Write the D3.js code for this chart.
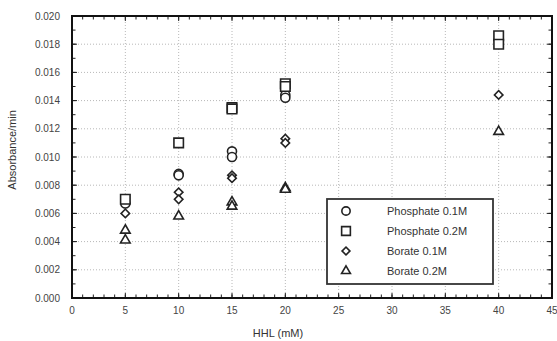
<!DOCTYPE html>
<html>
<head>
<meta charset="utf-8">
<script src="https://cdn.jsdelivr.net/npm/d3@7"></script>
<style>
  body { margin: 0; background: #fff; }
  text { font-family: "Liberation Sans", Arial, sans-serif; }
</style>
</head>
<body>
<div id="chart"></div>
<script>
// Values (HHL in mM, absorbance/min)
var phos01X = [5, 10, 10, 15, 15, 20, 20];
var phos01Y = [0.0067, 0.0088, 0.0087, 0.0104, 0.0100, 0.0144, 0.0142];
var phos02X = [5, 10, 15, 15, 20, 20, 40, 40];
var phos02Y = [0.0070, 0.0110, 0.0135, 0.0134, 0.0152, 0.0150, 0.0186, 0.0180];
var bor01X = [5, 10, 10, 15, 15, 20, 20, 40];
var bor01Y = [0.0060, 0.0075, 0.0070, 0.0087, 0.0085, 0.0113, 0.0110, 0.0144];
var bor02X = [5, 5, 10, 15, 15, 20, 20, 40];
var bor02Y = [0.0048, 0.0041, 0.0058, 0.0068, 0.0065, 0.0078, 0.0077, 0.0118];

var seriesNames = ["Phosphate 0.1M", "Phosphate 0.2M", "Borate 0.1M", "Borate 0.2M"];
var xTicks = [0, 5, 10, 15, 20, 25, 30, 35, 40, 45];
var yTicks = [0, 0.002, 0.004, 0.006, 0.008, 0.010, 0.012, 0.014, 0.016, 0.018, 0.020];

var width = 557, height = 341;
var margin = { top: 16, right: 5, bottom: 43, left: 72 };
var innerW = width - margin.left - margin.right;
var innerH = height - margin.top - margin.bottom;

var x = d3.scaleLinear().domain([0, 45]).range([0, innerW]);
var y = d3.scaleLinear().domain([0, 0.020]).range([innerH, 0]);

var svg = d3.select("#chart").append("svg")
    .attr("width", width)
    .attr("height", height);

var g = svg.append("g")
    .attr("transform", `translate(${margin.left}, ${margin.top})`);

// dotted grid at major ticks
g.append("g").selectAll("line").data(xTicks.slice(1, -1)).join("line")
    .attr("x1", d => x(d)).attr("x2", d => x(d))
    .attr("y1", 0).attr("y2", innerH)
    .attr("stroke", "#b8b8b8").attr("stroke-dasharray", "1,2");
g.append("g").selectAll("line").data(yTicks.slice(1, -1)).join("line")
    .attr("y1", d => y(d)).attr("y2", d => y(d))
    .attr("x1", 0).attr("x2", innerW)
    .attr("stroke", "#b8b8b8").attr("stroke-dasharray", "1,2");

// inward ticks on all four sides (major and minor)
var xMinor = d3.range(0, 46, 1);
var yMinor = d3.range(0, 21, 1).map(d => d / 1000);
function tickSide(vals, scale, isX, pos, dir, len) {
    g.append("g").selectAll("line").data(vals).join("line")
        .attr("x1", d => isX ? scale(d) : pos)
        .attr("x2", d => isX ? scale(d) : pos + dir * len)
        .attr("y1", d => isX ? pos : scale(d))
        .attr("y2", d => isX ? pos + dir * len : scale(d))
        .attr("stroke", "#222").attr("stroke-width", 1);
}
tickSide(xMinor, x, true, innerH, -1, 3.5);
tickSide(xMinor, x, true, 0, 1, 3.5);
tickSide(yMinor, y, false, 0, 1, 3.5);
tickSide(yMinor, y, false, innerW, -1, 3.5);
tickSide(xTicks, x, true, innerH, -1, 5);
tickSide(xTicks, x, true, 0, 1, 5);
tickSide(yTicks, y, false, 0, 1, 5);
tickSide(yTicks, y, false, innerW, -1, 5);

// frame
g.append("rect")
    .attr("x", 0).attr("y", 0)
    .attr("width", innerW).attr("height", innerH)
    .attr("fill", "none").attr("stroke", "#111").attr("stroke-width", 2);

// tick labels
g.append("g").selectAll("text").data(xTicks).join("text")
    .attr("x", d => x(d)).attr("y", innerH + 16)
    .attr("text-anchor", "middle")
    .attr("font-size", 10).attr("fill", "#444")
    .text(d => d);
g.append("g").selectAll("text").data(yTicks).join("text")
    .attr("x", -12).attr("y", d => y(d) + 3.5)
    .attr("text-anchor", "end")
    .attr("font-size", 10).attr("fill", "#444")
    .text(d => d3.format(".3f")(d));

// axis titles
g.append("text")
    .attr("x", innerW / 2 - 34).attr("y", innerH + 39)
    .attr("text-anchor", "middle")
    .attr("font-size", 11).attr("fill", "#333")
    .text("HHL (mM)");
g.append("text")
    .attr("transform", "rotate(-90)")
    .attr("x", -(y(0.0105)))
    .attr("y", -56)
    .attr("text-anchor", "middle")
    .attr("font-size", 11).attr("fill", "#333")
    .text("Absorbance/min");

// markers
var shapes = [
    { xs: phos01X, ys: phos01Y, type: d3.symbolCircle, size: 64, rot: 0 },
    { xs: phos02X, ys: phos02Y, type: d3.symbolSquare, size: 90, rot: 0 },
    { xs: bor01X, ys: bor01Y, type: d3.symbolSquare, size: 36, rot: 45 },
    { xs: bor02X, ys: bor02Y, type: d3.symbolTriangle, size: 40, rot: 0 }
];

shapes.forEach(function (s) {
    var sym = d3.symbol().type(s.type).size(s.size);
    g.append("g").selectAll("path").data(s.xs).join("path")
        .attr("d", sym)
        .attr("transform", (d, i) => `translate(${x(d)}, ${y(s.ys[i])}) rotate(${s.rot})`)
        .attr("fill", "white")
        .attr("stroke", "#222")
        .attr("stroke-width", 1.6);
});

// legend
var legend = svg.append("g").attr("transform", "translate(327, 199)");
legend.append("rect")
    .attr("width", 166).attr("height", 85)
    .attr("fill", "white").attr("stroke", "#333").attr("stroke-width", 1.8);
seriesNames.forEach(function (name, i) {
    var s = shapes[i];
    var ly = 12 + i * 20;
    legend.append("path")
        .attr("d", d3.symbol().type(s.type).size(s.size * 0.85))
        .attr("transform", `translate(19, ${ly}) rotate(${s.rot})`)
        .attr("fill", "white").attr("stroke", "#222").attr("stroke-width", 1.6);
    legend.append("text")
        .attr("x", 60).attr("y", ly + 4)
        .attr("font-size", 11).attr("fill", "#333")
        .text(name);
});
</script>
</body>
</html>
